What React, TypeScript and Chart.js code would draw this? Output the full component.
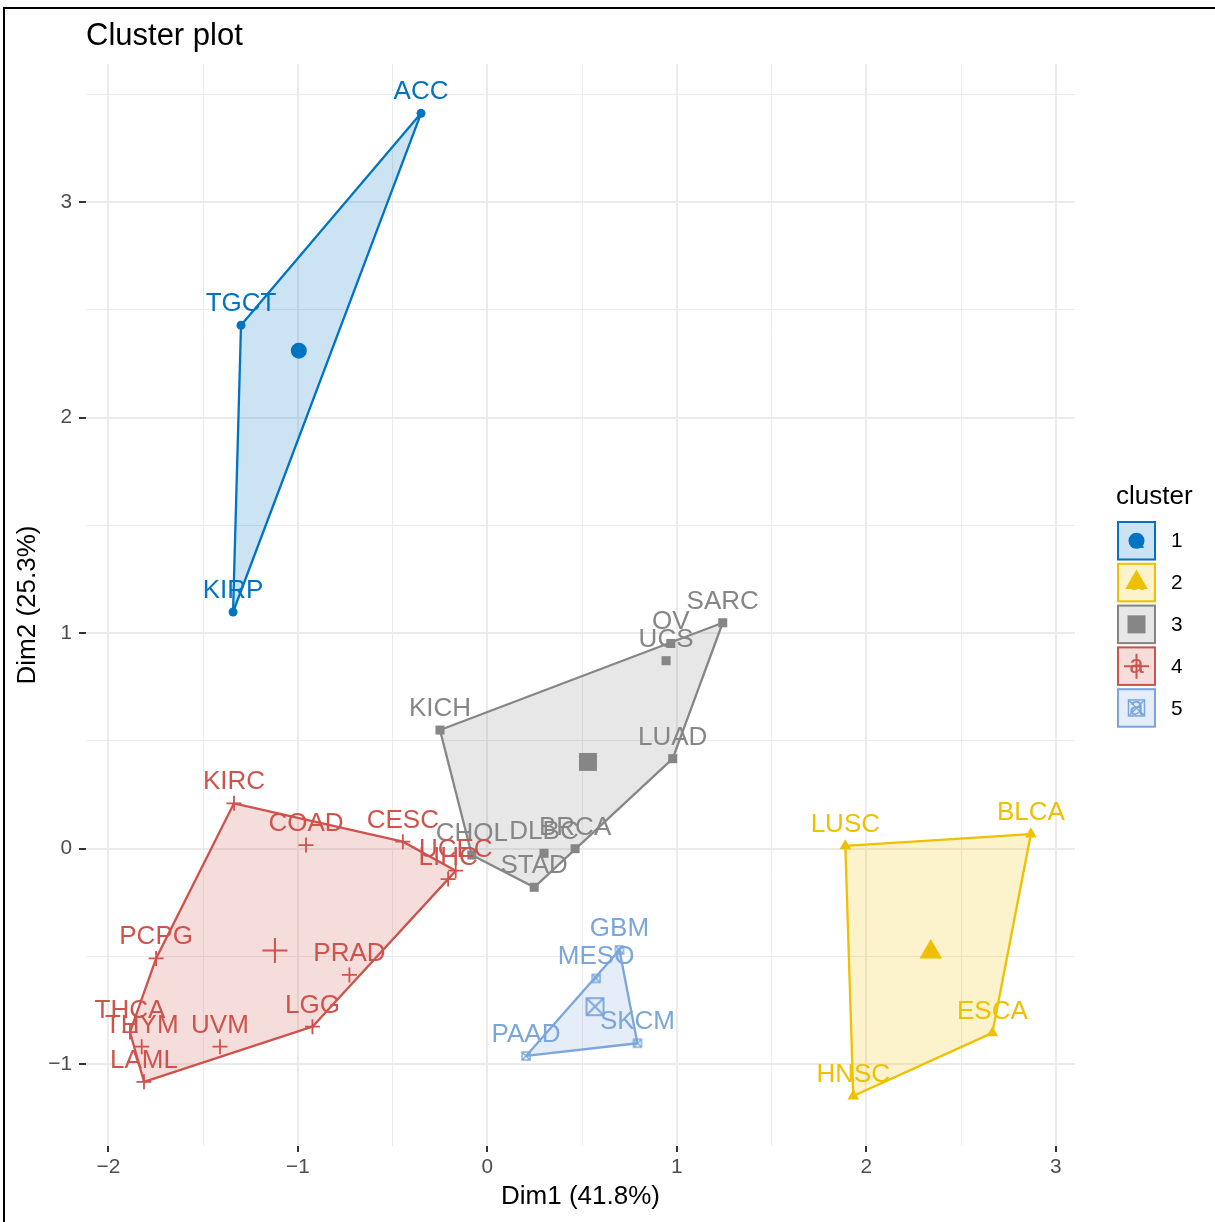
import React, { useEffect, useRef } from 'react';
import { Chart, registerables } from 'chart.js';

Chart.register(...registerables);

const FONT = "'Liberation Sans', Arial, Helvetica, sans-serif";
const W = 1215;
const H = 1222;

// Cluster identities and palette
const clusterIds = ['1', '2', '3', '4', '5'];
const clusterColors = ['#0073C2', '#EFC000', '#868686', '#CD534C', '#7AA6DC'];

// Cluster 1
const c1Names = ['ACC', 'TGCT', 'KIRP'];
const c1X = [-0.35, -1.3, -1.342];
const c1Y = [3.413, 2.429, 1.098];

// Cluster 2
const c2Names = ['LUSC', 'BLCA', 'ESCA', 'HNSC'];
const c2X = [1.889, 2.868, 2.665, 1.931];
const c2Y = [0.012, 0.067, -0.856, -1.149];

// Cluster 3
const c3Names = ['SARC', 'OV', 'UCS', 'KICH', 'LUAD', 'BRCA', 'DLBC', 'STAD', 'CHOL'];
const c3X = [1.242, 0.968, 0.943, -0.25, 0.978, 0.463, 0.299, 0.247, -0.082];
const c3Y = [1.048, 0.952, 0.872, 0.55, 0.417, -0.001, -0.022, -0.18, -0.03];

// Cluster 4
const c4Names = ['KIRC', 'COAD', 'CESC', 'UCEC', 'LIHC', 'PCPG', 'PRAD', 'LGG', 'THCA', 'THYM', 'UVM', 'LAML'];
const c4X = [-1.337, -0.957, -0.446, -0.167, -0.207, -1.748, -0.728, -0.923, -1.886, -1.824, -1.411, -1.812];
const c4Y = [0.21, 0.016, 0.032, -0.103, -0.142, -0.51, -0.587, -0.827, -0.852, -0.92, -0.92, -1.083];

// Cluster 5
const c5Names = ['GBM', 'MESO', 'SKCM', 'PAAD'];
const c5X = [0.697, 0.574, 0.792, 0.204];
const c5Y = [-0.471, -0.603, -0.904, -0.963];

// Cluster centres
const centerX = [-0.995, 2.34, 0.531, -1.121, 0.568];
const centerY = [2.311, -0.48, 0.402, -0.474, -0.734];

// Axes
const xTickValues = [-2, -1.5, -1, -0.5, 0, 0.5, 1, 1.5, 2, 2.5, 3];
const yTickValues = [-1, -0.5, 0, 0.5, 1, 1.5, 2, 2.5, 3, 3.5];
const xLimits = [-2.118, 3.101];
const yLimits = [-1.381, 3.642];

const titleText = 'Cluster plot';
const xTitle = 'Dim1 (41.8%)';
const yTitle = 'Dim2 (25.3%)';
const legendTitle = 'cluster';

const clusterNames = [c1Names, c2Names, c3Names, c4Names, c5Names];
const clusterXs = [c1X, c2X, c3X, c4X, c5X];
const clusterYs = [c1Y, c2Y, c3Y, c4Y, c5Y];

type P = { x: number; y: number };

function alpha(hex: string, a: number) {
  const n = parseInt(hex.slice(1), 16);
  return `rgba(${(n >> 16) & 255},${(n >> 8) & 255},${n & 255},${a})`;
}

function convexHull(pts: P[]): P[] {
  const p = pts.slice().sort((a, b) => a.x - b.x || a.y - b.y);
  const cross = (o: P, a: P, b: P) => (a.x - o.x) * (b.y - o.y) - (a.y - o.y) * (b.x - o.x);
  const lower: P[] = [];
  for (const q of p) {
    while (lower.length >= 2 && cross(lower[lower.length - 2], lower[lower.length - 1], q) <= 0) lower.pop();
    lower.push(q);
  }
  const upper: P[] = [];
  for (let i = p.length - 1; i >= 0; i--) {
    const q = p[i];
    while (upper.length >= 2 && cross(upper[upper.length - 2], upper[upper.length - 1], q) <= 0) upper.pop();
    upper.push(q);
  }
  upper.pop();
  lower.pop();
  return lower.concat(upper);
}

// Square with crossed diagonals (open marker)
function boxCross(side: number, lw: number, color: string): HTMLCanvasElement {
  const size = Math.ceil(side + lw + 2);
  const c = document.createElement('canvas');
  c.width = size;
  c.height = size;
  const g = c.getContext('2d')!;
  const o = (size - side) / 2;
  g.strokeStyle = color;
  g.lineWidth = lw;
  g.strokeRect(o, o, side, side);
  g.beginPath();
  g.moveTo(o, o);
  g.lineTo(o + side, o + side);
  g.moveTo(o + side, o);
  g.lineTo(o, o + side);
  g.stroke();
  return c;
}

function drawKeySymbol(ctx: CanvasRenderingContext2D, k: number, x: number, y: number) {
  const col = clusterColors[k];
  ctx.save();
  ctx.fillStyle = col;
  ctx.strokeStyle = col;
  // text key glyph
  ctx.font = `26px ${FONT}`;
  ctx.textAlign = 'center';
  ctx.textBaseline = 'middle';
  ctx.fillText('a', x, y);
  if (k === 0) {
    ctx.beginPath();
    ctx.arc(x, y, 8, 0, Math.PI * 2);
    ctx.fill();
  } else if (k === 1) {
    const r = 13;
    ctx.beginPath();
    ctx.moveTo(x, y - r);
    ctx.lineTo(x + r * 0.866, y + r / 2);
    ctx.lineTo(x - r * 0.866, y + r / 2);
    ctx.closePath();
    ctx.fill();
  } else if (k === 2) {
    ctx.fillRect(x - 9, y - 9, 18, 18);
  } else if (k === 3) {
    ctx.lineWidth = 2;
    ctx.beginPath();
    ctx.moveTo(x - 12.5, y);
    ctx.lineTo(x + 12.5, y);
    ctx.moveTo(x, y - 12.5);
    ctx.lineTo(x, y + 12.5);
    ctx.stroke();
  } else {
    ctx.lineWidth = 1.5;
    ctx.strokeRect(x - 8, y - 8, 16, 16);
    ctx.beginPath();
    ctx.moveTo(x - 8, y - 8);
    ctx.lineTo(x + 8, y + 8);
    ctx.moveTo(x + 8, y - 8);
    ctx.lineTo(x - 8, y + 8);
    ctx.stroke();
  }
  ctx.restore();
}

const pointLabels = {
  id: 'pointLabels',
  afterDatasetsDraw(chart: any) {
    const ctx = chart.ctx as CanvasRenderingContext2D;
    ctx.save();
    ctx.font = `26px ${FONT}`;
    ctx.textAlign = 'center';
    ctx.textBaseline = 'alphabetic';
    chart.data.datasets.forEach((ds: any, i: number) => {
      if (!ds.names) return;
      const meta = chart.getDatasetMeta(i);
      ctx.fillStyle = ds.labelColor;
      meta.data.forEach((el: any, j: number) => {
        ctx.fillText(ds.names[j], el.x, el.y - 14);
      });
    });
    ctx.restore();
  },
};

const decorations = {
  id: 'decorations',
  afterDraw(chart: any) {
    const ctx = chart.ctx as CanvasRenderingContext2D;
    const area = chart.chartArea;
    ctx.save();
    ctx.fillStyle = '#000000';
    // title
    ctx.font = `31px ${FONT}`;
    ctx.textAlign = 'left';
    ctx.textBaseline = 'alphabetic';
    ctx.fillText(titleText, area.left, 45);
    // axis titles
    ctx.font = `26px ${FONT}`;
    ctx.textAlign = 'center';
    ctx.fillText(xTitle, (area.left + area.right) / 2, 1204);
    ctx.save();
    ctx.translate(35, (area.top + area.bottom) / 2);
    ctx.rotate(-Math.PI / 2);
    ctx.fillText(yTitle, 0, 0);
    ctx.restore();
    // legend
    ctx.textAlign = 'left';
    ctx.fillText(legendTitle, 1116, 504);
    const keyLeft = 1117;
    const keyW = 39;
    const keyH = 39.5;
    clusterIds.forEach((id, k) => {
      const top = 521 + k * 41.8;
      const col = clusterColors[k];
      ctx.fillStyle = alpha(col, 0.2);
      ctx.fillRect(keyLeft, top, keyW, keyH);
      ctx.strokeStyle = col;
      ctx.lineWidth = 2;
      ctx.strokeRect(keyLeft + 1, top + 1, keyW - 2, keyH - 2);
      drawKeySymbol(ctx, k, keyLeft + keyW / 2, top + keyH / 2);
      ctx.fillStyle = '#000000';
      ctx.font = `20.8px ${FONT}`;
      ctx.textBaseline = 'middle';
      ctx.fillText(id, 1171, top + keyH / 2 + 1);
      ctx.textBaseline = 'alphabetic';
      ctx.font = `26px ${FONT}`;
    });
    ctx.restore();
  },
};

function fmt(v: number) {
  return v < 0 ? '\u2212' + Math.abs(v) : String(v);
}

export default function App() {
  const ref = useRef<HTMLCanvasElement | null>(null);

  useEffect(() => {
    if (!ref.current) return;
    Chart.defaults.font.family = FONT;

    const styles: any[] = [
      { small: { pointStyle: 'circle', pointRadius: 4.5, borderWidth: 0 }, big: { pointStyle: 'circle', pointRadius: 8, borderWidth: 0 } },
      { small: { pointStyle: 'triangle', pointRadius: 6.75, borderWidth: 0 }, big: { pointStyle: 'triangle', pointRadius: 13, borderWidth: 0 } },
      { small: { pointStyle: 'rect', pointRadius: 6.4, borderWidth: 0 }, big: { pointStyle: 'rect', pointRadius: 12.7, borderWidth: 0 } },
      { small: { pointStyle: 'cross', pointRadius: 7.5, borderWidth: 1.8 }, big: { pointStyle: 'cross', pointRadius: 12.5, borderWidth: 2 } },
      {
        small: { pointStyle: boxCross(8, 1.4, clusterColors[4]), pointRadius: 5, borderWidth: 0 },
        big: { pointStyle: boxCross(17, 1.8, clusterColors[4]), pointRadius: 10, borderWidth: 0 },
      },
    ];

    const datasets: any[] = [];
    clusterIds.forEach((id, k) => {
      const col = clusterColors[k];
      const pts: P[] = clusterXs[k].map((x, j) => ({ x, y: clusterYs[k][j] }));
      const h = convexHull(pts);
      datasets.push({
        label: `hull ${id}`,
        data: [...h, h[0]],
        showLine: true,
        fill: 'shape',
        backgroundColor: alpha(col, 0.2),
        borderColor: col,
        borderWidth: 2.3,
        borderJoinStyle: 'round',
        tension: 0,
        pointRadius: 0,
        order: 3,
      });
      datasets.push({
        label: `cluster ${id}`,
        data: pts,
        backgroundColor: col,
        borderColor: col,
        pointBorderColor: col,
        pointBackgroundColor: col,
        pointStyle: styles[k].small.pointStyle,
        pointRadius: styles[k].small.pointRadius,
        pointBorderWidth: styles[k].small.borderWidth,
        names: clusterNames[k],
        labelColor: col,
        order: 2,
      });
      datasets.push({
        label: `centre ${id}`,
        data: [{ x: centerX[k], y: centerY[k] }],
        backgroundColor: col,
        borderColor: col,
        pointBorderColor: col,
        pointBackgroundColor: col,
        pointStyle: styles[k].big.pointStyle,
        pointRadius: styles[k].big.pointRadius,
        pointBorderWidth: styles[k].big.borderWidth,
        order: 1,
      });
    });

    const isMajor = (ctx: any) => ctx.tick && Number.isInteger(ctx.tick.value);

    const chart = new Chart(ref.current, {
      type: 'scatter',
      data: { datasets },
      plugins: [pointLabels, decorations],
      options: {
        animation: false,
        responsive: false,
        devicePixelRatio: 1,
        events: [],
        layout: { padding: { left: 0, top: 64, right: W - 1075, bottom: 0 } },
        plugins: { legend: { display: false }, tooltip: { enabled: false }, title: { display: false } },
        scales: {
          x: {
            type: 'linear',
            min: xLimits[0],
            max: xLimits[1],
            afterBuildTicks: (s: any) => {
              s.ticks = xTickValues.map((value) => ({ value }));
            },
            afterFit: (s: any) => {
              s.height = 76;
            },
            border: { display: false },
            grid: {
              color: '#EBEBEB',
              lineWidth: (c: any) => (isMajor(c) ? 2 : 1),
              tickColor: (c: any) => (isMajor(c) ? '#333333' : 'rgba(0,0,0,0)'),
              tickWidth: 2,
              tickLength: 6,
              drawTicks: true,
            },
            ticks: {
              autoSkip: false,
              maxRotation: 0,
              padding: 3,
              color: '#4D4D4D',
              font: { size: 20.8, family: FONT },
              callback: (v: any) => (Number.isInteger(v) ? fmt(v) : ''),
            },
          },
          y: {
            type: 'linear',
            min: yLimits[0],
            max: yLimits[1],
            afterBuildTicks: (s: any) => {
              s.ticks = yTickValues.map((value) => ({ value }));
            },
            afterFit: (s: any) => {
              s.width = 86;
            },
            border: { display: false },
            grid: {
              color: '#EBEBEB',
              lineWidth: (c: any) => (isMajor(c) ? 2 : 1),
              tickColor: (c: any) => (isMajor(c) ? '#333333' : 'rgba(0,0,0,0)'),
              tickWidth: 2,
              tickLength: 7,
              drawTicks: true,
            },
            ticks: {
              autoSkip: false,
              padding: 7,
              color: '#4D4D4D',
              font: { size: 20.8, family: FONT },
              callback: (v: any) => (Number.isInteger(v) ? fmt(v) : ''),
            },
          },
        },
      } as any,
    });

    return () => chart.destroy();
  }, []);

  return (
    <div style={{ position: 'absolute', left: 0, top: 0, width: W, height: H, background: '#ffffff', overflow: 'hidden' }}>
      <canvas ref={ref} width={W} height={H} style={{ display: 'block', width: W, height: H }} />
      <div
        style={{
          position: 'absolute',
          left: 3,
          top: 7,
          width: W - 3,
          height: H - 7,
          boxSizing: 'border-box',
          borderTop: '2px solid #000',
          borderLeft: '2px solid #000',
          pointerEvents: 'none',
        }}
      />
    </div>
  );
}
